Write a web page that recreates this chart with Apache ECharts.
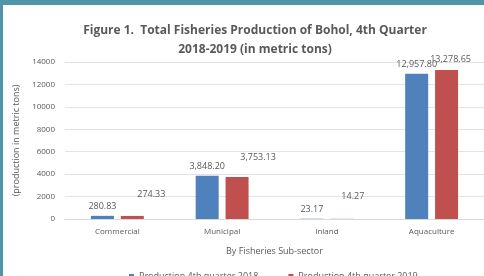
<!DOCTYPE html>
<html>
<head>
<meta charset="utf-8">
<script src="https://cdn.jsdelivr.net/npm/echarts@6/dist/echarts.min.js"></script>
<style>
  html, body { margin: 0; padding: 0; background: #fff; }
  #chart { width: 484px; height: 276px; }
</style>
</head>
<body>
<div id="chart"></div>
<script>
// 数据
const categories = ["Commercial", "Municipal", "Inland", "Aquaculture"]
const prod2018 = [280.83, 3848.20, 23.17, 12957.80]
const prod2019 = [274.33, 3753.13, 14.27, 13278.65]
const seriesNames = ["Production 4th quarter 2018", "Production 4th quarter 2019"]

// red labels sit a bit off the bar like in the original
const redLabelShift = [[19, -12], [21, -10], [11, -13], [4, -1]]

const fmt = v => v.toLocaleString("en-US", { minimumFractionDigits: 2, maximumFractionDigits: 2 })
const grayText = "#595959"

let myChart = echarts.init(document.getElementById("chart"))

myChart.setOption({
  animation: false,
  backgroundColor: "#fff",
  title: {
    text: "Figure 1.  Total Fisheries Production of Bohol, 4th Quarter\n2018-2019 (in metric tons)",
    left: 250,
    textAlign: "center",
    top: 16,
    textStyle: {
      fontFamily: "Open Sans",
      fontSize: 12,
      fontWeight: "bold",
      color: grayText,
      lineHeight: 19,
    },
  },
  graphic: [
    { type: "rect", shape: { x: 0, y: 0, width: 484, height: 5 }, style: { fill: "#4f94a7" } },
    { type: "rect", shape: { x: 0, y: 0, width: 3, height: 276 }, style: { fill: "#4f94a7" } },
  ],
  legend: {
    data: seriesNames,
    left: 124,
    orient: "horizontal",
    top: 267,
    itemWidth: 5,
    itemHeight: 5,
    itemGap: 30,
    icon: "rect",
    textStyle: { fontFamily: "Open Sans", fontSize: 9, color: grayText },
  },
  grid: {
    left: 65,
    right: -4,
    top: 62,
    bottom: 57,
  },
  xAxis: {
    type: "category",
    data: categories,
    name: "By Fisheries Sub-sector",
    nameLocation: "middle",
    nameGap: 28,
    nameTextStyle: { fontFamily: "Open Sans", fontSize: 9, color: grayText },
    axisLine: { lineStyle: { color: "#d9d9d9" } },
    axisTick: { show: false },
    axisLabel: { fontFamily: "Open Sans", fontSize: 8, color: grayText, margin: 9 },
  },
  yAxis: {
    type: "value",
    min: 0,
    max: 14000,
    interval: 2000,
    name: "(production in metric tons)",
    nameLocation: "middle",
    nameGap: 32,
    nameTextStyle: { fontFamily: "Open Sans", fontSize: 9, color: grayText },
    axisLine: { show: false },
    axisTick: { show: false },
    splitLine: { lineStyle: { color: "#e3e3e3" } },
    axisLabel: { fontFamily: "Open Sans", fontSize: 8, color: grayText, margin: 10, formatter: v => String(v) },
  },
  series: [
    {
      name: seriesNames[0],
      type: "bar",
      data: prod2018,
      barWidth: 23,
      barGap: "30%",
      itemStyle: { color: "#4f81bd" },
      label: {
        show: true,
        position: "top",
        distance: 5,
        fontFamily: "Open Sans",
        fontSize: 9,
        color: grayText,
        formatter: p => fmt(p.value),
      },
    },
    {
      name: seriesNames[1],
      type: "bar",
      data: prod2019.map((v, i) => ({
        value: v,
        label: { offset: redLabelShift[i] },
      })),
      barWidth: 23,
      itemStyle: { color: "#c0504d" },
      label: {
        show: true,
        position: "top",
        distance: 5,
        fontFamily: "Open Sans",
        fontSize: 9,
        color: grayText,
        formatter: p => fmt(p.value),
      },
    },
  ],
})
</script>
</body>
</html>
